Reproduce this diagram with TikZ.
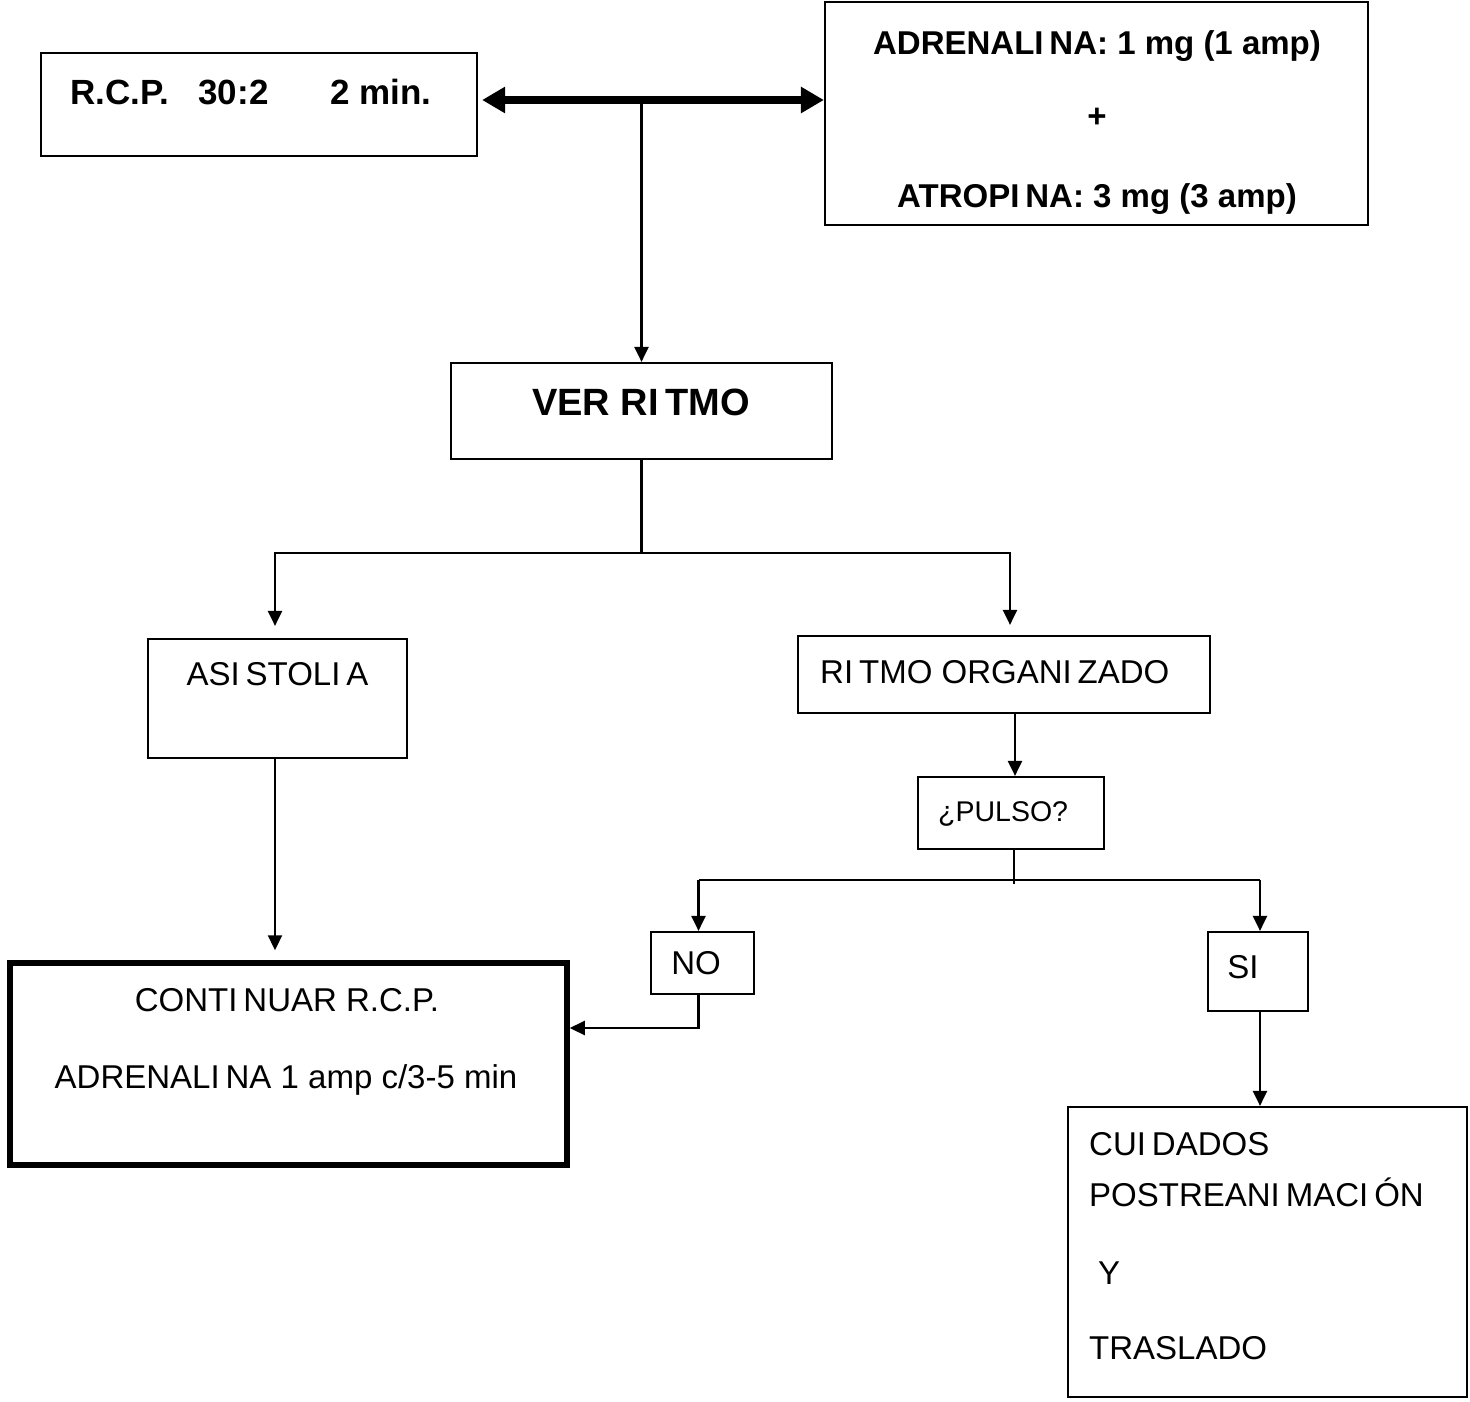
\documentclass[tikz,border=0pt]{standalone}
\usepackage{fontspec}
\setmainfont{Liberation Sans}
\usetikzlibrary{arrows.meta}
\newcommand\Ig{I\kern0.18em}
\begin{document}
\begin{tikzpicture}[x=1pt,y=-1pt,
  box/.style={draw, line width=2.2pt, inner sep=0pt},
  thickbox/.style={draw, line width=5.5pt, inner sep=0pt},
  txt/.style={inner sep=0pt, font=\fontsize{33pt}{40pt}\selectfont},
  stxt/.style={inner sep=0pt, font=\fontsize{28.5pt}{32pt}\selectfont},
  btxt/.style={inner sep=0pt, font=\fontsize{33pt}{40pt}\selectfont\bfseries},
  ln/.style={line width=2.2pt},
  arr/.style={line width=2.2pt, -{Triangle[length=15pt,width=14pt]}},
  dbl/.style={line width=8pt, {Triangle[length=23pt,width=25pt]}-{Triangle[length=23pt,width=25pt]}}
]
\useasboundingbox (0,0) rectangle (1470,1401);

% boxes
\node[box, minimum width=436pt, minimum height=103pt] (rcp) at (259,104.5) {};
\node[box, minimum width=543pt, minimum height=223pt] (adr) at (1096.5,113.5) {};
\node[box, minimum width=381pt, minimum height=96pt] (ver) at (641.5,411) {};
\node[box, minimum width=259pt, minimum height=119pt] (asis) at (277.5,698.5) {};
\node[box, minimum width=412pt, minimum height=77pt] (ritmo) at (1004,674.5) {};
\node[box, minimum width=186pt, minimum height=72pt] (pulso) at (1011,813) {};
\node[box, minimum width=103pt, minimum height=62pt] (no) at (702.5,963) {};
\node[box, minimum width=100pt, minimum height=79pt] (si) at (1258,971.5) {};
\node[thickbox, minimum width=557pt, minimum height=202pt] (cont) at (288.5,1064) {};
\node[box, minimum width=399pt, minimum height=290pt] (cuid) at (1267.5,1252) {};

% texts
\node[btxt, font=\fontsize{35pt}{40pt}\selectfont\bfseries, anchor=base west] (trcp) at (70,104)
  {R.C.P. \hspace{20pt}30:2 \hspace{52pt}2 min.};
\node[btxt, anchor=base] (tadr1) at (1097,54) {ADRENAL\Ig NA: 1 mg (1 amp)};
\node[btxt, anchor=center] (tplus) at (1097,118) {+};
\node[btxt, anchor=base] (tadr2) at (1097,207) {ATROP\Ig NA: 3 mg (3 amp)};
\node[btxt, font=\fontsize{38pt}{44pt}\selectfont\bfseries, anchor=base] (tver) at (641,415) {VER R\Ig TMO};
\node[txt, anchor=base] (tasis) at (277.5,685) {AS\Ig STOL\Ig A};
\node[txt, anchor=base west] (tritmo) at (820,683) {R\Ig TMO ORGAN\Ig ZADO};
\node[stxt, anchor=base west] (tpulso) at (938,821) {¿PULSO?};
\node[txt, anchor=center] (tno) at (696,963) {NO};
\node[txt, anchor=center] (tsi) at (1243,967) {SI};
\node[txt, anchor=center] (tcont1) at (287,1000) {CONT\Ig NUAR R.C.P.};
\node[txt, anchor=base] (tcont2) at (286,1088) {ADRENAL\Ig NA 1 amp c/3-5 min};
\node[txt, anchor=base west] (tc1) at (1089,1155) {CU\Ig DADOS};
\node[txt, anchor=base west] (tc2) at (1089,1206) {POSTREAN\Ig MAC\Ig ÓN};
\node[txt, anchor=base west] (tc3) at (1098,1284) {Y};
\node[txt, anchor=base west] (tc4) at (1089,1359) {TRASLADO};

% connectors
\coordinate (mid) at (641.5,100);
\coordinate (j1) at (641.5,553);
\coordinate (j2) at (1014,880);
\coordinate (j2b) at (1014,884);

\draw[dbl, shorten <=4pt] (rcp.east |- mid) -- (adr.west |- mid);
\draw[arr] (mid) -- (ver.north);
\draw[ln] (ver.south) -- (j1);
\draw[arr, shorten >=12pt] (j1) -| ([xshift=-2.5pt]asis.north);
\draw[arr, shorten >=10pt] (j1) -| ([xshift=6pt]ritmo.north);
\draw[arr] ([xshift=11pt]ritmo.south) -- ([xshift=11pt]ritmo.south |- pulso.north);
\draw[ln] ([xshift=3pt]pulso.south) -- (j2b);
\draw[arr] ([xshift=-4pt]no.north |- j2) -- ([xshift=-4pt]no.north);
\draw[ln] ([xshift=-4pt]no.north |- j2) -- ([xshift=2pt]si.north |- j2);
\draw[arr] ([xshift=2pt]si.north |- j2) -- ([xshift=2pt]si.north);
\draw[arr, shorten >=10pt] ([xshift=-2.5pt]asis.south) -- ([xshift=-2.5pt]asis.south |- cont.north);
\draw[arr] ([xshift=-4pt]no.south) |- ([yshift=36pt]cont.east);
\draw[arr] ([xshift=2pt]si.south) -- ([xshift=2pt]si.south |- cuid.north);
\end{tikzpicture}
\end{document}
